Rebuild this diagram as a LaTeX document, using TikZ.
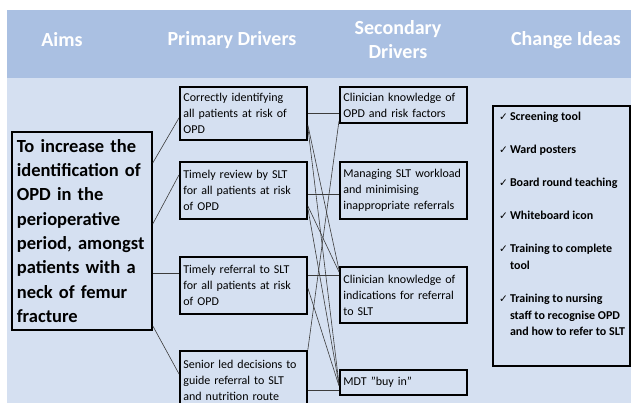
\documentclass[tikz,border=0pt]{standalone}
\usepackage{fontspec}
\setmainfont{Carlito}
\newfontfamily\symfont{DejaVu Sans}
\usetikzlibrary{positioning}
\definecolor{hdrblue}{RGB}{170,192,226}
\definecolor{bodyblue}{RGB}{213,224,241}
\definecolor{linkgray}{RGB}{60,60,60}
\newcommand{\ideatick}{{\symfont\fontsize{10.5}{10.5}\selectfont ✓}\kern2pt}
\begin{document}
\begin{tikzpicture}[
    x=1pt, y=-1pt,
    head/.style = {
        text=white,
        align=center,
        font=\bfseries\fontsize{20}{24}\selectfont
    },
    driver/.style = {
        rectangle,
        draw,
        line width=1.8pt,
        anchor=north west,
        align=left,
        text width=120pt,
        inner xsep=3.5pt,
        inner ysep=0pt,
        font=\fontsize{12}{16}\selectfont
    },
    aimbox/.style = {
        driver,
        text width=130pt,
        inner xsep=5pt,
        font=\bfseries\fontsize{18.5}{24.3}\selectfont
    },
    link/.style = {
        draw=linkgray,
        line width=0.6pt
    }
]
\useasboundingbox (0,0) rectangle (631,403);
\fill[bodyblue] (7,10) rectangle (631,403);
\fill[hdrblue] (7,10) rectangle (631,78);

% headings
\node[head] (hdaims) at (62,40) {Aims};
\node[head] (hdprim) at (232,40) {Primary Drivers};
\node[head] (hdsec) at (398,40) {Secondary\\Drivers};
\node[head] (hdideas) at (566,40) {Change Ideas};

% aim
\node[aimbox, minimum height=198pt] (aim) at (11,131) {To increase the\\identification of\\OPD in the\\perioperative\\period, amongst\\patients with a\\neck of femur\\fracture};

% primary drivers
\node[driver, minimum height=53pt] (prim1) at (179,86) {Correctly identifying\\all patients at risk of\\OPD};
\node[driver, minimum height=57pt] (prim2) at (179,161) {Timely review by SLT\\for all patients at risk\\of OPD};
\node[driver, minimum height=57pt] (prim3) at (179,256) {Timely referral to SLT\\for all patients at risk\\of OPD};
\node[driver, minimum height=58pt] (prim4) at (179,350) {Senior led decisions to\\guide referral to SLT\\and nutrition route};

% secondary drivers
\node[driver, minimum height=36pt] (sec1) at (339,86) {Clinician knowledge of\\OPD and risk factors};
\node[driver, minimum height=57pt] (sec2) at (339,161) {Managing SLT workload\\and minimising\\inappropriate referrals};
\node[driver, minimum height=56pt] (sec3) at (339,266) {Clinician knowledge of\\indications for referral\\to SLT};
\node[driver, minimum height=25pt] (sec4) at (339,369) {MDT \symbol{34}buy in\symbol{34}};

% change ideas
\node[draw, line width=1.8pt, anchor=north west, minimum width=137pt, minimum height=260pt] (ideas) at (492,105) {};
\node[anchor=north west, align=left, inner sep=0pt, font=\bfseries\fontsize{12}{16.7}\selectfont] (ideaslist) at ([shift={(7,7)}]ideas.north west) {%
\ideatick Screening tool\\[16.3pt]
\ideatick Ward posters\\[16.3pt]
\ideatick Board round teaching\\[16.3pt]
\ideatick Whiteboard icon\\[16.3pt]
\ideatick Training to complete\\
\hphantom{\ideatick}tool\\[16.3pt]
\ideatick Training to nursing\\
\hphantom{\ideatick}staff to recognise OPD\\
\hphantom{\ideatick}and how to refer to SLT};

% aim to primary
\draw[link] ([yshift=68]aim.east) -- ([yshift=-4.5]prim1.west);
\draw[link] ([yshift=7]aim.east) -- ([yshift=15.5]prim2.west);
\draw[link] ([yshift=-42]aim.east) -- ([yshift=12.5]prim3.west);
\draw[link] ([yshift=-95]aim.east) -- ([yshift=6]prim4.west);

% primary to secondary
\draw[link] (prim1.east) -- ([yshift=-8.5]sec1.west);
\draw[link] ([yshift=-3.5]prim2.east) -- ([yshift=-3.5]sec2.west);
\draw[link] ([yshift=10.5]prim3.east) -- ([yshift=20]sec3.west);
\draw[link] ([yshift=-10]prim4.east) -- ([yshift=-7.5]sec4.west);
\draw[link] ([yshift=-11.5]prim1.east) -- ([yshift=25]sec3.west);
\draw[link] ([yshift=-13.5]prim1.east) -- ([yshift=-1.5]sec4.west);
\draw[link] ([yshift=-15.5]prim2.east) -- ([yshift=23]sec3.west);
\draw[link] ([yshift=-17.5]prim2.east) -- ([yshift=-2.5]sec4.west);
\draw[link] ([yshift=-2.5]prim3.east) -- ([yshift=-3.5]sec4.west);
\draw[link] (prim4.north east) -- ([yshift=-16]sec1.west);

\end{tikzpicture}
\end{document}
